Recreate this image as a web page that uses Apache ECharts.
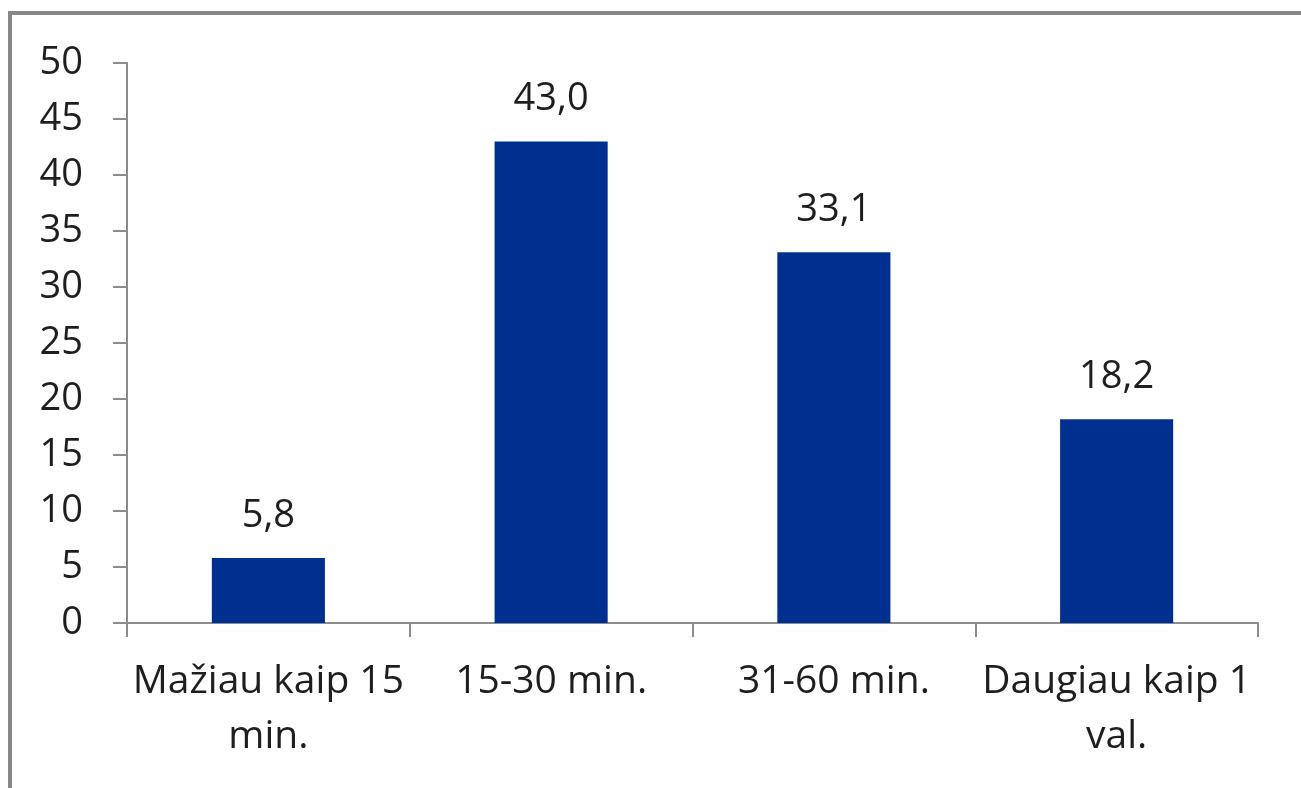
<!DOCTYPE html>
<html>
<head>
<meta charset="utf-8">
<script src="https://cdn.jsdelivr.net/npm/echarts@6/dist/echarts.min.js"></script>
<style>
  html, body { margin: 0; padding: 0; background: #fff; overflow: hidden; }
  #frame { position: absolute; left: 8px; top: 11px; width: 1320px; height: 820px;
           border-left: 4px solid #878787; border-top: 4px solid #878787; box-sizing: border-box; }
  #chart { position: absolute; left: 0; top: 0; width: 1301px; height: 788px; }
</style>
</head>
<body>
<div id="frame"></div>
<div id="chart"></div>
<script>
// Travel time groups and their shares (%)
const categories = ['Mažiau kaip 15\nmin.', '15-30 min.', '31-60 min.', 'Daugiau kaip 1\nval.'];
const values = [5.8, 43.0, 33.1, 18.2];
const yTicks = [0, 5, 10, 15, 20, 25, 30, 35, 40, 45, 50];

const FONT = '"Open Sans", Lato, sans-serif';
const TEXT = '#1e1e1e';
const chart = echarts.init(document.getElementById('chart'), null, { renderer: 'canvas' });
chart.setOption({
  backgroundColor: 'transparent',
  animation: false,
  grid: { left: 127, right: 43, top: 63, bottom: 165 },
  xAxis: {
    type: 'category',
    data: categories,
    axisLine: { lineStyle: { color: '#8c8c8c', width: 2 } },
    axisTick: { show: true, length: 14, alignWithLabel: false, lineStyle: { color: '#8c8c8c', width: 2 } },
    axisLabel: { color: TEXT, fontFamily: FONT, fontSize: 39, lineHeight: 55, margin: 31, interval: 0 }
  },
  yAxis: {
    type: 'value',
    min: yTicks[0],
    max: yTicks[yTicks.length - 1],
    interval: yTicks[1] - yTicks[0],
    splitLine: { show: false },
    axisLine: { show: true, lineStyle: { color: '#8c8c8c', width: 2 } },
    axisTick: { show: true, length: 14, lineStyle: { color: '#8c8c8c', width: 2 } },
    axisLabel: { color: TEXT, fontFamily: FONT, fontSize: 38, margin: 44 }
  },
  series: [{
    type: 'bar',
    data: values,
    barWidth: '40%',
    itemStyle: { color: '#00308f' },
    label: {
      show: true,
      position: 'top',
      distance: 23,
      color: TEXT,
      fontFamily: FONT,
      fontSize: 38,
      formatter: p => p.value.toFixed(1).replace('.', ',')
    }
  }]
});
</script>
</body>
</html>
